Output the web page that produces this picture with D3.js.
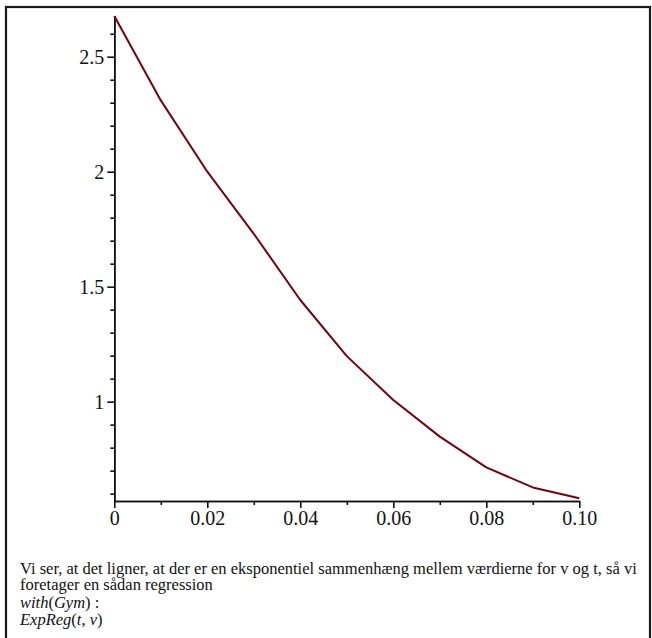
<!DOCTYPE html>
<head>
<meta charset="utf-8">
<style>
html, body { margin:0; padding:0; overflow:hidden; background:#fff; }
svg { position:absolute; top:0; left:0; }
text { font-family: 'Liberation Serif', 'Times New Roman', serif; fill:#111; }
</style>
</head>
<body>
<svg id="stage" width="652" height="638"></svg>
<script src="https://cdn.jsdelivr.net/npm/d3@7"></script>
<script>
// t and v
var tValues = [0, 0.01, 0.02, 0.03, 0.04, 0.05, 0.06, 0.07, 0.08, 0.09, 0.10];
var vValues = [2.677, 2.31, 2.0, 1.73, 1.442, 1.198, 1.007, 0.848, 0.714, 0.627, 0.58];

var xTicks = [0, 0.02, 0.04, 0.06, 0.08, 0.10];
var xTickLabels = ["0", "0.02", "0.04", "0.06", "0.08", "0.10"];
var xMinor = [0.01, 0.03, 0.05, 0.07, 0.09];
var yTicks = [1, 1.5, 2, 2.5];
var yTickLabels = ["1", "1.5", "2", "2.5"];
var yMinor = [0.6, 0.7, 0.8, 0.9, 1.1, 1.2, 1.3, 1.4, 1.6, 1.7, 1.8, 1.9, 2.1, 2.2, 2.3, 2.4, 2.6];

var svg = d3.select("#stage");

// frame around the worksheet region
svg.append("rect")
  .attr("x", 6).attr("y", 7)
  .attr("width", 644).attr("height", 640)
  .attr("fill", "none")
  .attr("stroke", "#1a1a1a")
  .attr("stroke-width", 2.2);

var x = d3.scaleLinear().domain([0, 0.1]).range([114.3, 579.3]);
var y = d3.scaleLinear().domain([0.568, 2.677]).range([501, 16]);

function styleAxis(g) {
  g.select(".domain").attr("stroke", "#111").attr("stroke-width", 1.6);
  g.selectAll(".tick line").attr("stroke", "#111").attr("stroke-width", 1.6);
  g.selectAll(".tick text")
    .attr("font-family", "'Liberation Serif', 'Times New Roman', serif")
    .attr("font-size", 20).attr("fill", "#111");
}

// minor ticks
svg.append("g")
  .attr("transform", "translate(" + x(0) + ",0)")
  .call(d3.axisLeft(y).tickValues(yMinor).tickSize(4).tickFormat("").tickSizeOuter(0))
  .call(styleAxis);
svg.append("g")
  .attr("transform", "translate(0," + y.range()[0] + ")")
  .call(d3.axisBottom(x).tickValues(xMinor).tickSize(4).tickFormat("").tickSizeOuter(0))
  .call(styleAxis);

// major ticks with labels
svg.append("g")
  .attr("transform", "translate(" + x(0) + ",0)")
  .call(d3.axisLeft(y).tickValues(yTicks).tickSize(7).tickPadding(3)
    .tickFormat(function(d, i) { return yTickLabels[i]; }).tickSizeOuter(0))
  .call(styleAxis);
svg.append("g")
  .attr("transform", "translate(0," + y.range()[0] + ")")
  .call(d3.axisBottom(x).tickValues(xTicks).tickSize(7).tickPadding(3)
    .tickFormat(function(d, i) { return xTickLabels[i]; }).tickSizeOuter(0))
  .call(styleAxis);

var line = d3.line()
  .x(function(d, i) { return x(tValues[i]); })
  .y(function(d) { return y(d); });

svg.append("path")
  .datum(vValues)
  .attr("d", line)
  .attr("fill", "none")
  .attr("stroke", "#78000E")
  .attr("stroke-width", 2)
  .attr("stroke-linejoin", "round");

// worksheet text under the plot
var txt = svg.append("g").attr("font-size", 16.5);
txt.append("text").attr("x", 20).attr("y", 574)
  .text("Vi ser, at det ligner, at der er en eksponentiel sammenhæng mellem værdierne for v og t, så vi");
txt.append("text").attr("x", 20).attr("y", 590)
  .text("foretager en sådan regression");

var l3 = txt.append("text").attr("x", 20).attr("y", 608);
l3.append("tspan").attr("font-style", "italic").text("with");
l3.append("tspan").text("(");
l3.append("tspan").attr("font-style", "italic").text("Gym");
l3.append("tspan").text(") :");

var l4 = txt.append("text").attr("x", 20).attr("y", 625);
l4.append("tspan").attr("font-style", "italic").text("ExpReg");
l4.append("tspan").text("(");
l4.append("tspan").attr("font-style", "italic").text("t");
l4.append("tspan").text(", ");
l4.append("tspan").attr("font-style", "italic").text("v");
l4.append("tspan").text(")");
</script>
</body>
